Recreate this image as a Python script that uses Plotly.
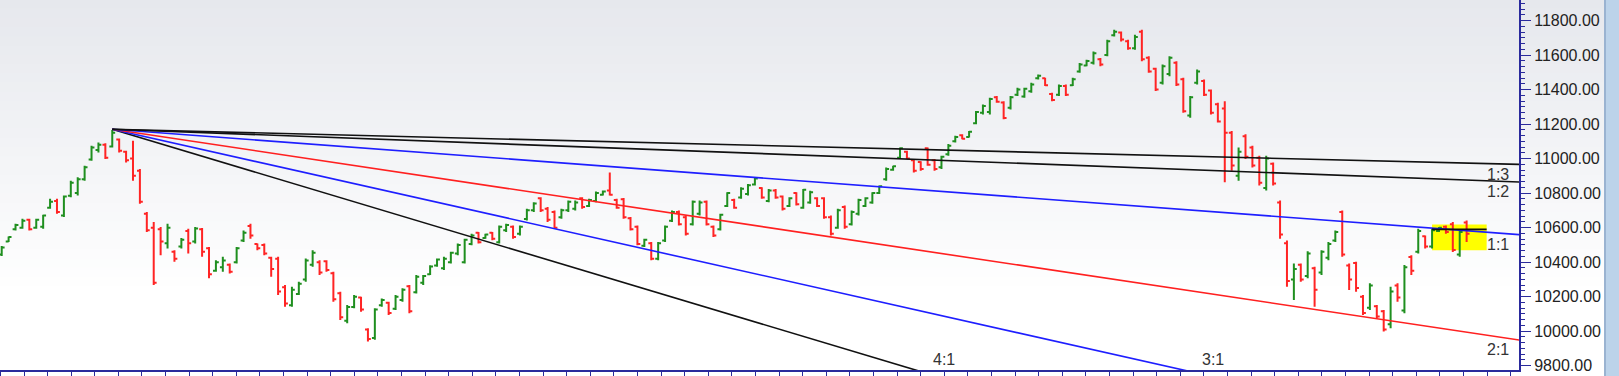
import plotly.graph_objects as go

# ---------------- data ----------------
highs = [10493,10548,10622,10651,10651,10651,10674,10767,10767,10786,
         10872,10892,10959,11074,11093,11089,11165,11116,11045,11103,
         10940,10690,10632,10603,10622,10469,10540,10594,10603,10598,
         10488,10411,10431,10392,10488,10583,10622,10508,10508,10431,
         10431,10267,10257,10286,10421,10469,10411,10411,10344,10229,
         10152,10209,10200,10017,10133,10190,10171,10209,10248,10267,
         10325,10325,10382,10421,10431,10460,10508,10536,10565,10575,
         10565,10575,10613,10622,10613,10613,10709,10747,10776,10719,
         10699,10709,10757,10757,10776,10767,10809,10815,10920,10767,
         10771,10661,10613,10536,10517,10517,10613,10699,10699,10670,
         10757,10757,10757,10613,10680,10805,10767,10834,10853,10892,
         10834,10824,10824,10786,10776,10805,10824,10813,10776,10776,
         10670,10709,10728,10699,10767,10776,10805,10844,10949,10959,
         11064,11045,10997,10985,11064,10997,11016,11084,11132,11141,
         11160,11276,11314,11353,11362,11333,11362,11410,11410,11439,
         11487,11468,11382,11429,11429,11468,11554,11573,11621,11583,
         11689,11746,11737,11689,11718,11746,11593,11526,11545,11593,
         11564,11468,11362,11516,11458,11401,11324,11333,11160,11064,
         11141,11074,11016,11016,10978,10757,10526,10392,10392,10463,
         10373,10469,10517,10584,10699,10392,10402,10209,10277,10152,
         10123,10257,10277,10383,10440,10594,10555,10594,10603,10613,
         10632,10584,10642]
lows = [10435,10517,10583,10594,10583,10594,10594,10709,10680,10661,
        10776,10786,10872,10988,11036,10997,11064,11036,10978,10872,
        10738,10575,10267,10440,10479,10402,10479,10450,10508,10431,
        10306,10344,10344,10334,10392,10517,10536,10469,10440,10315,
        10209,10142,10142,10209,10286,10373,10325,10344,10171,10065,
        10046,10133,10113,9940,9950,10142,10094,10123,10171,10104,
        10219,10267,10325,10373,10354,10392,10440,10392,10498,10508,
        10536,10527,10508,10575,10536,10555,10642,10690,10690,10632,
        10594,10651,10690,10699,10709,10719,10747,10786,10786,10709,
        10651,10583,10498,10488,10411,10411,10517,10632,10613,10555,
        10613,10670,10613,10546,10583,10719,10709,10767,10786,10844,
        10767,10747,10767,10699,10719,10728,10709,10738,10719,10651,
        10555,10594,10594,10613,10670,10719,10738,10795,10872,10930,
        10997,10997,10920,10930,10959,10930,10940,11016,11093,11112,
        11122,11199,11256,11256,11324,11228,11285,11362,11353,11382,
        11458,11420,11333,11362,11362,11420,11497,11535,11545,11535,
        11593,11708,11679,11631,11631,11564,11497,11391,11429,11477,
        11420,11266,11237,11429,11362,11256,11209,10863,10930,10872,
        10997,10949,10844,10815,10844,10536,10257,10180,10286,10306,
        10142,10325,10411,10517,10431,10238,10229,10094,10123,10075,
        9998,10017,10171,10104,10325,10450,10479,10479,10575,10565,
        10459,10431,10517]
opens = [10445,10520,10590,10600,10645,10600,10605,10715,10755,10670,
         10785,10800,10880,10995,11050,11080,11070,11110,11040,11000,
         10930,10680,10600,10590,10510,10460,10490,10580,10520,10590,
         10480,10350,10370,10385,10400,10525,10610,10505,10500,10425,
         10420,10255,10150,10215,10300,10385,10400,10405,10335,10220,
         10060,10140,10195,10010,9960,10150,10165,10130,10180,10260,
         10225,10280,10330,10380,10365,10400,10450,10400,10505,10570,
         10540,10570,10515,10585,10605,10565,10650,10700,10770,10710,
         10690,10660,10700,10710,10770,10725,10755,10790,10815,10760,
         10765,10655,10605,10495,10510,10420,10525,10640,10690,10660,
         10620,10680,10750,10605,10590,10725,10760,10775,10795,10850,
         10830,10755,10815,10780,10725,10800,10715,10745,10770,10770,
         10660,10600,10720,10620,10680,10725,10745,10800,10880,10935,
         11005,11040,10990,10980,11060,10990,10950,11025,11100,11135,
         11125,11205,11265,11270,11355,11325,11295,11370,11360,11390,
         11465,11465,11375,11370,11420,11425,11505,11540,11555,11575,
         11600,11715,11730,11680,11640,11735,11585,11520,11440,11490,
         11555,11460,11250,11440,11450,11395,11315,11290,11150,10900,
         11130,11065,11005,10830,10970,10745,10510,10300,10385,10320,
         10365,10340,10425,10525,10690,10380,10395,10200,10135,10145,
         10115,10040,10265,10120,10430,10460,10550,10490,10580,10605,
         10620,10445,10630]
closes = [10485,10545,10615,10640,10590,10645,10670,10750,10690,10780,
          10860,10880,10950,11065,11080,11005,11150,11045,10990,10900,
          10750,10585,10280,10520,10600,10420,10530,10510,10595,10460,
          10330,10400,10410,10345,10480,10570,10555,10480,10450,10360,
          10230,10160,10240,10275,10410,10455,10340,10355,10185,10080,
          10140,10200,10125,9955,10125,10180,10105,10200,10240,10115,
          10315,10320,10375,10415,10420,10455,10500,10530,10555,10515,
          10560,10535,10605,10615,10545,10605,10700,10740,10700,10645,
          10600,10700,10750,10745,10720,10760,10800,10810,10790,10715,
          10660,10590,10505,10530,10420,10510,10605,10690,10620,10565,
          10750,10745,10620,10555,10675,10800,10715,10825,10845,10885,
          10775,10815,10775,10710,10770,10735,10820,10805,10725,10660,
          10565,10700,10605,10690,10760,10770,10800,10840,10940,10955,
          11060,11000,10930,10940,10965,10940,11010,11075,11125,11115,
          11155,11270,11305,11345,11330,11235,11355,11400,11405,11430,
          11480,11425,11340,11420,11370,11460,11545,11565,11610,11545,
          11680,11735,11690,11640,11705,11575,11505,11400,11535,11585,
          11430,11275,11355,11505,11370,11265,11215,11150,10960,11040,
          11010,10960,10860,11000,10855,10560,10290,10360,10300,10450,
          10240,10460,10505,10575,10445,10300,10250,10105,10265,10085,
          10010,10230,10195,10370,10350,10580,10490,10585,10600,10575,
          10470,10575,10565]

# Gann fan (origin at the swing high)
fan_origin_bar = 16
fan_origin_price = 11170
fan_unit = 3.0                      # price per bar of the 1:1 line
fan_ratios = [4, 3, 2, 1, 1 / 2, 1 / 3]
fan_names = ["4:1", "3:1", "2:1", "1:1", "1:2", "1:3"]
fan_colors = ["#111111", "#1e1eff", "#ff2020", "#1e1eff", "#111111", "#111111"]

y_ticks = [9800, 10000, 10200, 10400, 10600, 10800, 11000, 11200, 11400, 11600, 11800]

highlight_bars = [207.0, 214.9]
highlight_prices = [10469, 10618]
marker_level = 10590

# ---------------- figure ----------------
bars = list(range(len(highs)))
AXIS = "#2a2a9c"
W_PLOT, H_PLOT = 1519, 372

fig = go.Figure()

# Gann fan lines
x_end = 260
for r, name, col in zip(fan_ratios, fan_names, fan_colors):
    fig.add_trace(go.Scatter(
        x=[fan_origin_bar, x_end],
        y=[fan_origin_price, fan_origin_price - r * fan_unit * (x_end - fan_origin_bar)],
        mode="lines", line=dict(color=col, width=1.6), name=name,
        hoverinfo="skip", showlegend=False))

# horizontal level inside the highlight box
fig.add_trace(go.Scatter(
    x=[highlight_bars[0], highlight_bars[1]], y=[marker_level, marker_level],
    mode="lines", line=dict(color="#111111", width=1.6), hoverinfo="skip", showlegend=False))

# OHLC bars
fig.add_trace(go.Ohlc(
    x=bars, open=opens, high=highs, low=lows, close=closes,
    increasing=dict(line=dict(color="#1f8f1f", width=2)),
    decreasing=dict(line=dict(color="#ff2424", width=2)),
    tickwidth=0.42, showlegend=False, hoverinfo="skip"))

# background gradient bands
shapes = []
n_bands = 40
top = (230, 232, 237)
for k in range(n_bands):
    t = k / (n_bands - 1)
    f = min(1.0, t / 0.8)
    c = tuple(int(round(top[j] + (255 - top[j]) * f)) for j in range(3))
    y1 = 1 - k / n_bands
    y0 = 1 - (k + 1) / n_bands
    if k == n_bands - 1:
        y0 = -0.05
    shapes.append(dict(type="rect", xref="paper", yref="paper", x0=-0.01, x1=1604 / W_PLOT,
                       y0=y0, y1=y1 + (0.002 if k else 0.01), fillcolor="rgb(%d,%d,%d)" % c,
                       line=dict(width=0), layer="below"))
# highlight box (under the bars)
shapes.append(dict(type="rect", xref="x", yref="y",
                   x0=highlight_bars[0], x1=highlight_bars[1],
                   y0=highlight_prices[0], y1=highlight_prices[1],
                   fillcolor="#ffff00", line=dict(width=0), layer="below"))
# right strip
shapes.append(dict(type="rect", xref="paper", yref="paper", x0=1604 / W_PLOT, x1=1.08,
                   y0=-0.05, y1=1.01, fillcolor="#bcd3ea", line=dict(width=0), layer="below"))
shapes.append(dict(type="line", xref="paper", yref="paper", x0=1605 / W_PLOT, x1=1605 / W_PLOT,
                   y0=-0.05, y1=1.01, line=dict(color="#8fa9c8", width=1.5), layer="below"))

# fan labels
ann = []
lab_font = dict(family="Liberation Sans, Arial, sans-serif", size=16, color="#333333")
for text, px, py, anchor in [("1:3", 1511, 175, "right"), ("1:2", 1511, 193, "right"),
                             ("1:1", 1511, 246, "right"), ("2:1", 1511, 351, "right"),
                             ("4:1", 944, 361, "center"), ("3:1", 1213, 361, "center")]:
    ann.append(dict(text=text, xref="paper", yref="paper", x=px / W_PLOT, y=1 - py / H_PLOT,
                    xanchor=anchor, yanchor="middle", showarrow=False, font=lab_font))

fig.update_layout(
    width=1619, height=376,
    margin=dict(l=0, r=100, t=0, b=4, pad=0),
    paper_bgcolor="white", plot_bgcolor="rgba(0,0,0,0)",
    shapes=shapes, annotations=ann, showlegend=False,
    xaxis=dict(range=[-0.246, 219.58], showgrid=False, zeroline=False,
               showline=True, linecolor=AXIS, linewidth=2,
               ticks="outside", ticklen=6, tickcolor=AXIS, tickwidth=1,
               tickmode="linear", tick0=3.227, dtick=3.415,
               showticklabels=False, rangeslider=dict(visible=False), fixedrange=True),
    yaxis=dict(range=[9775, 11919], side="right", showgrid=False, zeroline=False,
               showline=True, linecolor=AXIS, linewidth=2,
               tickmode="array", tickvals=y_ticks, tickformat=".2f",
               ticks="outside", ticklen=10, tickcolor=AXIS, tickwidth=1,
               tickfont=dict(family="Liberation Sans, Arial, sans-serif", size=16, color="#222222"),
               minor=dict(ticks="outside", ticklen=4, tickcolor=AXIS, tick0=9800, dtick=200 / 6),
               fixedrange=True),
)

fig.write_html("out.html", config={"displayModeBar": False})
